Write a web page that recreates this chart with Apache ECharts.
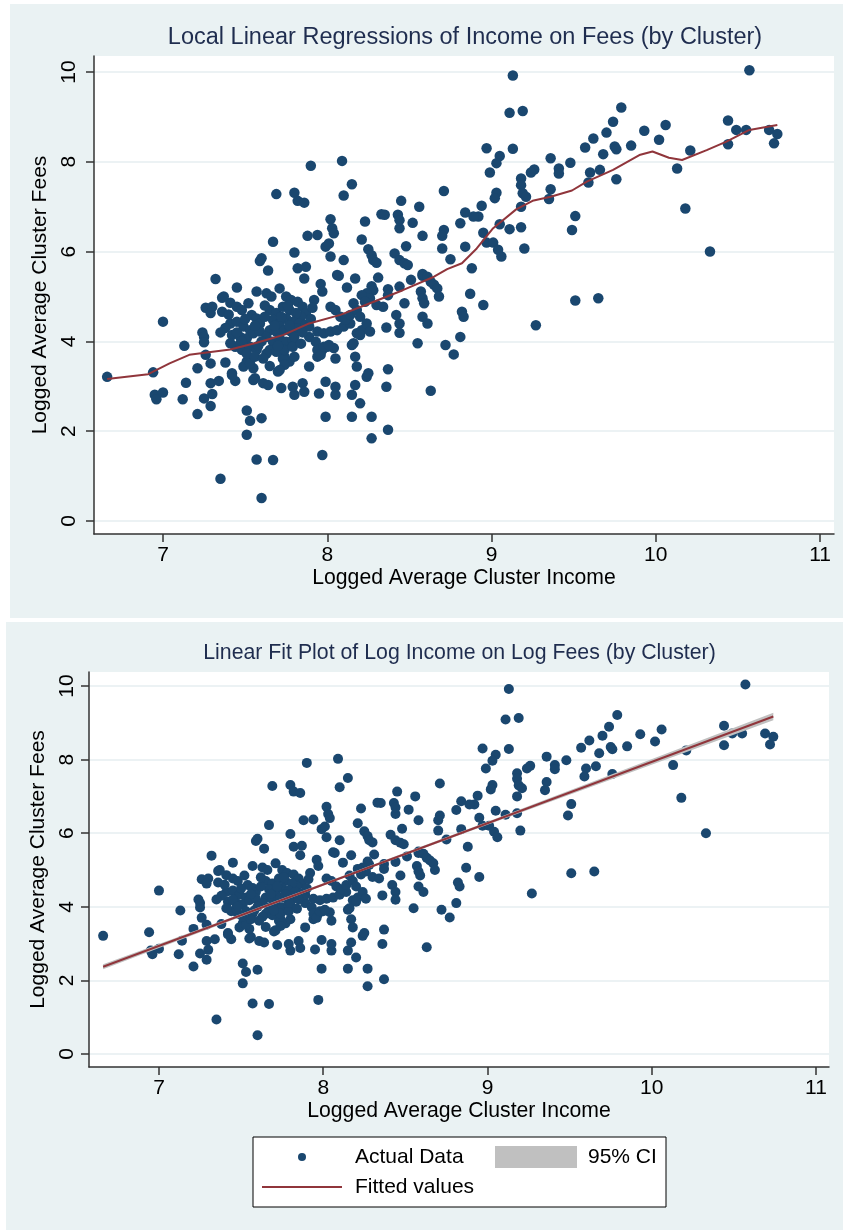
<!DOCTYPE html>
<html>
<head>
<meta charset="utf-8">
<script src="https://cdn.jsdelivr.net/npm/echarts@6/dist/echarts.min.js"></script>
<style>
html,body{margin:0;padding:0;background:#ffffff;}
#wrap{position:relative;width:843px;height:1230px;}
.panel{position:absolute;background:#eaf2f3;}
#c{position:absolute;left:0;top:0;width:843px;height:1230px;}
</style>
</head>
<body>
<div id="wrap">
  <div class="panel" style="left:10px;top:4px;width:833px;height:614px;"></div>
  <div class="panel" style="left:6px;top:622px;width:837px;height:608px;"></div>
  <div id="c"></div>
</div>
<script>
// ---------- DATA ----------
// [log income, log fees] per cluster
const clusterPoints = [
  [6.66,3.21],[6.94,3.31],[6.95,2.81],[6.96,2.71],[7.00,2.86],[7.00,4.44],[7.13,3.90],[7.14,3.08],
  [7.12,2.71],[7.21,2.38],[7.21,3.40],[7.24,4.20],[7.25,4.10],[7.25,3.98],[7.26,3.70],[7.29,3.51],
  [7.29,3.07],[7.34,3.12],[7.25,2.73],[7.30,2.83],[7.29,2.56],[7.32,5.39],[7.26,4.75],[7.30,4.77],
  [7.36,4.66],[7.29,4.63],[7.36,4.97],[7.41,4.86],[7.45,5.20],[7.57,5.11],[7.60,5.85],[7.59,5.79],
  [7.64,5.58],[7.67,6.22],[7.69,7.28],[7.80,7.31],[7.82,7.13],[7.86,7.09],[7.80,5.98],[7.82,5.63],
  [7.38,3.53],[7.42,3.29],[7.44,3.12],[7.51,2.46],[7.53,2.23],[7.60,2.29],[7.51,1.92],[7.57,1.37],
  [7.67,1.36],[7.35,0.94],[7.60,0.51],[7.56,3.18],[7.61,3.07],[7.64,3.03],[7.72,2.96],[7.70,3.33],
  [7.65,3.45],[7.74,3.66],[7.77,3.55],[7.80,2.81],[7.79,2.99],[7.85,3.07],[7.86,2.88],[7.55,3.14],
  [7.42,3.25],[7.51,3.55],[7.49,3.44],[7.55,3.40],[7.73,3.62],[7.80,3.66],[7.94,3.66],[7.97,3.81],
  [8.00,3.88],[8.04,3.85],[7.89,3.44],
  [7.90,7.91],[8.09,8.02],[8.15,7.50],[8.10,7.25],[8.45,7.13],[8.56,7.00],[8.23,6.67],[8.33,6.83],
  [8.35,6.82],[8.43,6.82],[8.44,6.52],[8.52,6.64],[8.58,6.35],[8.02,6.72],[8.03,6.52],[8.04,6.41],
  [7.88,6.35],[7.94,6.37],[8.21,6.27],[7.99,6.11],[8.01,6.18],[8.48,6.12],[8.25,6.05],[8.27,5.92],
  [8.28,5.81],[8.30,5.75],[8.41,5.96],[8.44,5.81],[8.47,5.74],[8.49,5.70],[8.02,5.89],[8.10,5.81],
  [7.87,5.66],[7.86,5.40],[8.06,5.48],[8.07,5.46],[8.17,5.40],[8.12,5.20],[7.96,5.28],[7.97,5.11],
  [8.31,5.42],[8.27,5.23],[8.28,5.14],[8.37,5.16],[8.44,5.22],[8.51,5.37],[8.58,5.46],[8.57,5.11],
  [8.58,4.96],[8.59,4.85],[8.24,5.07],[8.26,4.96],[8.30,4.81],[8.34,4.77],[8.47,4.85],[8.42,4.59],
  [8.44,4.40],[8.44,4.19],[8.36,4.31],[8.55,3.96],[8.58,4.55],[8.61,4.40],[8.63,2.90],[8.37,3.38],
  [8.36,2.99],[8.27,2.32],[8.37,2.03],[8.27,1.84],[8.15,2.32],[7.99,2.32],[8.20,2.62],[8.15,2.81],
  [8.17,3.03],[8.24,3.21],[8.25,3.29],[8.05,2.81],[8.05,2.99],[7.99,3.10],[7.95,2.84],[8.05,3.62],
  [8.15,3.92],[8.17,3.66],[8.18,3.44],[7.97,1.47],
  [7.37,5.00],[7.45,4.77],[7.48,4.70],[7.54,4.59],[7.57,4.51],[7.59,4.40],[7.41,4.40],[7.45,4.44],
  [7.49,4.33],[7.53,4.25],[7.42,4.14],[7.47,4.10],[7.51,4.07],[7.55,4.18],[7.59,4.22],[7.44,3.88],
  [7.48,3.81],[7.53,3.88],[7.57,3.81],[7.53,3.51],[7.41,3.96],[7.51,3.73],[7.56,3.66],[7.63,5.07],
  [7.66,5.00],[7.71,5.18],[7.75,5.00],[7.78,4.92],[7.82,4.88],[7.85,4.77],[7.87,4.63],[7.84,4.55],
  [7.65,4.70],[7.69,4.63],[7.73,4.77],[7.77,4.70],[7.81,4.63],[7.67,4.48],[7.71,4.40],[7.75,4.51],
  [7.79,4.44],[7.83,4.40],[7.65,4.25],[7.69,4.22],[7.74,4.25],[7.78,4.22],[7.82,4.29],[7.87,4.37],
  [7.63,4.10],[7.67,3.99],[7.71,4.07],[7.75,3.99],[7.79,4.03],[7.65,3.81],[7.69,3.77],[7.74,3.81],
  [7.79,3.88],[7.63,3.73],[7.74,3.48],[7.71,3.36],[7.89,4.10],[7.93,3.99],[7.94,3.81],[7.96,3.70],
  [7.98,3.88],[8.01,3.92],[7.89,4.33],[7.94,4.22],[7.98,4.18],[8.02,4.22],[8.06,4.25],[8.10,4.33],
  [8.14,4.40],[8.02,4.77],[8.05,4.70],[8.08,4.55],[8.11,4.48],[8.14,4.59],[8.16,4.85],[8.18,4.70],
  [8.20,4.55],[8.18,4.18],[8.21,4.25],[8.24,4.40],[8.26,4.22],[7.92,4.92],
  [7.38,4.30],[7.45,4.20],[7.50,4.50],[7.56,4.35],[7.62,4.55],[7.60,4.00],[7.68,4.35],[7.72,4.55],
  [7.77,4.35],[7.80,4.10],[7.85,4.20],[7.84,3.95],[7.58,3.90],[7.47,3.95],[7.40,4.60],[7.52,4.85],
  [7.62,4.80],[7.90,4.50],[7.91,4.75],[7.35,4.20],[7.48,4.00],[7.61,3.62],[7.70,3.90],[7.76,4.80],
  [9.13,9.92],[9.11,9.09],[9.19,9.13],[8.97,8.30],[9.13,8.29],[9.05,8.13],[9.03,7.97],[8.99,7.76],
  [9.36,8.08],[9.48,7.98],[9.41,7.85],[9.41,7.74],[9.26,7.83],[9.24,7.76],[9.18,7.63],[9.18,7.48],
  [9.19,7.30],[9.21,7.22],[9.03,7.31],[9.02,7.19],[9.36,7.39],[9.35,7.17],[9.18,7.00],[9.51,6.79],
  [9.49,6.48],[8.94,7.02],[8.92,6.78],[8.84,6.87],[8.89,6.78],[8.81,6.63],[9.05,6.61],[9.11,6.50],
  [9.18,6.54],[8.95,6.42],[8.97,6.20],[9.01,6.20],[9.04,6.04],[9.06,5.89],[9.20,6.07],[8.71,6.48],
  [8.70,6.35],[8.70,6.07],[8.84,6.11],[8.75,5.83],[8.88,5.63],[8.71,7.35],[8.44,6.70],[8.58,5.50],
  [8.61,5.44],[8.63,5.33],[8.65,5.26],[8.67,5.18],[8.68,5.00],[8.82,4.66],[8.83,4.55],[8.87,5.06],
  [8.95,4.81],[8.81,4.10],[8.72,3.92],[8.77,3.71],[9.27,4.36],[9.51,4.91],[8.37,5.03],[8.21,5.03],
  [8.23,4.88],[8.20,4.14],[8.16,3.96],
  [10.57,10.04],[9.79,9.21],[9.74,8.89],[9.70,8.65],[9.62,8.52],[9.57,8.32],[9.75,8.34],[9.76,8.28],
  [9.68,8.17],[9.85,8.36],[9.93,8.69],[10.06,8.82],[10.02,8.49],[10.44,8.92],[10.49,8.71],[10.55,8.71],
  [10.44,8.39],[10.69,8.71],[10.74,8.62],[10.72,8.41],[10.21,8.25],[10.13,7.85],[10.18,6.96],[10.33,6.00],
  [9.60,7.76],[9.59,7.54],[9.66,7.82],[9.76,7.61],[9.65,4.96]
];

// local linear regression curve (top panel)
const localFitIncome = [6.66,6.91,7.04,7.16,7.41,7.57,7.73,7.89,8.08,8.26,8.46,8.65,8.73,8.82,8.91,9.01,9.15,9.25,9.36,9.49,9.58,9.74,9.90,9.98,10.08,10.16,10.31,10.43,10.57,10.68,10.74];
const localFitFees   = [3.16,3.27,3.51,3.70,3.82,3.97,4.14,4.40,4.59,4.85,5.14,5.44,5.61,5.74,6.07,6.52,6.94,7.13,7.22,7.36,7.56,7.82,8.15,8.23,8.09,8.04,8.26,8.45,8.71,8.78,8.82];

// linear fit and 95% CI (bottom panel)
const linFitIncome = [6.66, 10.74];
const linFitFees   = [2.37, 9.17];
const ciIncome = [6.66, 7.40, 8.15, 9.00, 10.74];
const ciLower  = [2.30, 3.56, 4.83, 6.23, 9.07];
const ciUpper  = [2.44, 3.64, 4.89, 6.31, 9.27];

// axes
const xTicks = [7, 8, 9, 10, 11];
const yTicks = [0, 2, 4, 6, 8, 10];

// texts
const topTitle = 'Local Linear Regressions of Income on Fees (by Cluster)';
const bottomTitle = 'Linear Fit Plot of Log Income on Log Fees (by Cluster)';
const xName = 'Logged Average Cluster Income';
const yName = 'Logged Average Cluster Fees';
const legendNames = ['Actual Data', '95% CI', 'Fitted values'];

// ---------- STYLE ----------
const F = '"Liberation Sans", Arial, sans-serif';
const NAVY = '#1a476f';
const MAROON = '#90353b';
const CI_GRAY = '#c0c0c0';
const AXIS = '#333333';
const GRID = '#e6eef0';

function xAxisCfg(gridIndex, min, max) {
  return {
    type: 'value', gridIndex: gridIndex, min: min, max: max,
    name: xName, nameLocation: 'middle', nameGap: 34,
    nameTextStyle: { fontFamily: F, fontSize: 21.2, color: '#000' },
    axisLine: { show: true, onZero: false, lineStyle: { color: AXIS, width: 1.5 } },
    axisTick: { show: true, length: 8, customValues: xTicks, lineStyle: { color: AXIS, width: 1.5 } },
    axisLabel: { show: true, customValues: xTicks, fontFamily: F, fontSize: 21, color: '#000', margin: 11 },
    splitLine: { show: false }
  };
}
function yAxisCfg(gridIndex, min, max, margin) {
  return {
    type: 'value', gridIndex: gridIndex, min: min, max: max,
    name: yName, nameLocation: 'middle', nameGap: 38, nameRotate: 90,
    nameTextStyle: { fontFamily: F, fontSize: 21, color: '#000' },
    axisLine: { show: true, onZero: false, lineStyle: { color: AXIS, width: 1.5 } },
    axisTick: { show: true, length: 8, customValues: yTicks, lineStyle: { color: AXIS, width: 1.5 } },
    axisLabel: { show: true, customValues: yTicks, rotate: 90, fontFamily: F, fontSize: 21, color: '#000', margin: margin },
    splitLine: { show: true, lineStyle: { color: GRID, width: 1.5 } }
  };
}

const pointsData = clusterPoints.map(p => [p[0], p[1]]);
const legendText = { fontFamily: F, fontSize: 21, color: '#000', lineHeight: 22 };

const chart = echarts.init(document.getElementById('c'), null, { renderer: 'canvas' });
chart.setOption({
  backgroundColor: 'transparent',
  animation: false,
  textStyle: { fontFamily: F },
  grid: [
    { left: 94, top: 56, width: 740, height: 478, show: true, backgroundColor: '#ffffff', borderWidth: 0, containLabel: false },
    { left: 89, top: 672, width: 740, height: 395, show: true, backgroundColor: '#ffffff', borderWidth: 0, containLabel: false }
  ],
  xAxis: [ xAxisCfg(0, 6.58, 11.085), xAxisCfg(1, 6.574, 11.079) ],
  yAxis: [ yAxisCfg(0, -0.29, 10.356, 14), yAxisCfg(1, -0.353, 10.38, 11) ],
  legend: [
    { data: [{ name: legendNames[0], icon: 'circle', itemStyle: { color: NAVY } }],
      left: 298, top: 1146, padding: 0, itemWidth: 8, itemHeight: 8, selectedMode: false,
      textStyle: Object.assign({ padding: [0, 0, 0, 44] }, legendText) },
    { data: [{ name: legendNames[1], icon: 'rect', itemStyle: { color: CI_GRAY } }],
      left: 495, top: 1146, padding: 0, itemWidth: 82, itemHeight: 22, selectedMode: false,
      textStyle: Object.assign({ padding: [0, 0, 0, 6] }, legendText) },
    { data: [{ name: legendNames[2], icon: 'rect', itemStyle: { color: MAROON } }],
      left: 262, top: 1176, padding: 0, itemWidth: 80, itemHeight: 2, selectedMode: false,
      textStyle: Object.assign({ padding: [0, 0, 0, 8] }, legendText) }
  ],
  graphic: [
    { type: 'text', x: 465, y: 38, z: 10,
      style: { text: topTitle, fontFamily: F, fontSize: 23.5, fill: '#1f2d4f', align: 'center', verticalAlign: 'middle' } },
    { type: 'text', x: 459.5, y: 653, z: 10,
      style: { text: bottomTitle, fontFamily: F, fontSize: 21.3, fill: '#1f2d4f', align: 'center', verticalAlign: 'middle' } },
    { type: 'rect', z: 1, shape: { x: 253, y: 1137, width: 413, height: 70 },
      style: { fill: '#ffffff', stroke: '#000000', lineWidth: 1 } }
  ],
  series: [
    { type: 'scatter', name: legendNames[0], xAxisIndex: 0, yAxisIndex: 0, data: pointsData,
      symbol: 'circle', symbolSize: 10.5, itemStyle: { color: NAVY, opacity: 1 }, z: 3 },
    { type: 'line', name: 'Local linear fit', xAxisIndex: 0, yAxisIndex: 0,
      data: localFitIncome.map((x, i) => [x, localFitFees[i]]),
      showSymbol: false, symbol: 'none', smooth: false, lineStyle: { color: MAROON, width: 2 }, itemStyle: { color: MAROON }, z: 5 },
    { type: 'scatter', name: legendNames[0], xAxisIndex: 1, yAxisIndex: 1, data: pointsData,
      symbol: 'circle', symbolSize: 10, itemStyle: { color: NAVY, opacity: 1 }, z: 3 },
    { type: 'custom', name: legendNames[1], xAxisIndex: 1, yAxisIndex: 1,
      data: ciIncome.map((x, i) => [x, ciLower[i], ciUpper[i]]),
      encode: { x: 0, y: [1, 2] },
      itemStyle: { color: CI_GRAY }, z: 4,
      renderItem: function (params, api) {
        if (params.dataIndex !== 0) return null;
        const pts = [];
        for (let i = 0; i < ciIncome.length; i++) pts.push(api.coord([ciIncome[i], ciUpper[i]]));
        for (let i = ciIncome.length - 1; i >= 0; i--) pts.push(api.coord([ciIncome[i], ciLower[i]]));
        return { type: 'polygon', shape: { points: pts }, style: { fill: CI_GRAY, stroke: null } };
      } },
    { type: 'line', name: legendNames[2], xAxisIndex: 1, yAxisIndex: 1,
      data: linFitIncome.map((x, i) => [x, linFitFees[i]]),
      showSymbol: false, symbol: 'none', lineStyle: { color: MAROON, width: 2 }, itemStyle: { color: MAROON }, z: 5 }
  ]
});
</script>
</body>
</html>
